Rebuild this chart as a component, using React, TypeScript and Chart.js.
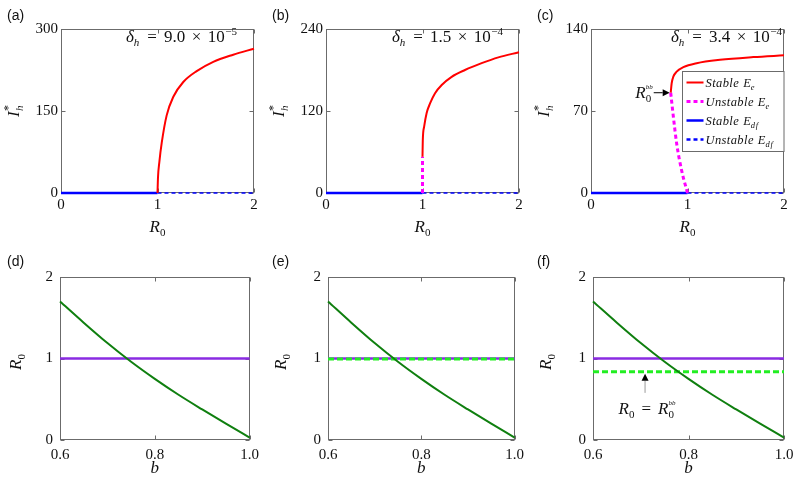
import React, { useEffect, useRef } from "react";
import { Chart, registerables } from "chart.js";

Chart.register(...registerables);

// ---------------- data ----------------
// Top row: bifurcation diagrams, I_h* against R0
const R0_A_STABLE = [1.0, 1.005, 1.02, 1.044, 1.095, 1.164, 1.267, 1.406, 1.578, 1.785, 2.0];
const IH_A_STABLE = [0, 28, 58, 92, 142, 176, 203, 223, 240, 253, 264];

const R0_B_STABLE = [1.0, 1.003, 1.017, 1.043, 1.078, 1.13, 1.199, 1.302, 1.44, 1.613, 1.786, 2.0];
const IH_B_STABLE = [53, 77, 97, 117, 131, 146, 158, 170, 180, 190, 198.5, 206];
const R0_B_UNSTABLE = [1.0, 1.0];
const IH_B_UNSTABLE = [0, 53];

const R0_C_STABLE = [0.826, 0.836, 0.853, 0.888, 0.957, 1.095, 1.337, 1.682, 2.0];
const IH_C_STABLE = [85.6, 93.7, 99.3, 103.6, 107.4, 110.8, 113.7, 116.0, 117.5];
const R0_C_UNSTABLE = [0.826, 0.84, 0.855, 0.888, 0.94, 1.0];
const IH_C_UNSTABLE = [85.6, 75, 64, 42, 19, 0];

const R0_DF_STABLE = [0, 1];
const R0_DF_UNSTABLE = [1, 2];
const IH_DF = [0, 0];

const DELTA_MANTISSA = ["9.0", "1.5", "3.4"];
const DELTA_EXPONENT = ["−5", "−4", "−4"];

const TICKS_R0_X = [0, 1, 2];
const TICKS_IH_A = [0, 150, 300];
const TICKS_IH_B = [0, 120, 240];
const TICKS_IH_C = [0, 70, 140];

// Bottom row: R0 against b
const B_VALUES = [0.6, 0.65, 0.7, 0.75, 0.8, 0.85, 0.9, 0.95, 1.0];
const R0_OF_B = [1.7, 1.44, 1.19, 0.96, 0.75, 0.555, 0.375, 0.2, 0.03];
const B_RANGE = [0.6, 1.0];
const R0_ONE = [1, 1];
const R0_BB_E = [0.995, 0.995];
const R0_BB_F = [0.836, 0.836];
const ANNOT_B_F = 0.709;

const TICKS_B = [0.6, 0.8, 1.0];
const TICKS_R0_Y = [0, 1, 2];

const PANEL_LABELS = ["(a)", "(b)", "(c)", "(d)", "(e)", "(f)"];

// ---------------- styling helpers ----------------
const SERIF = "'Liberation Serif', 'Times New Roman', serif";
const SANS = "'Liberation Sans', Arial, sans-serif";
const BOX = "#6b6b6b";
const INK = "#111";

type Part = { t: string; size: number; italic?: boolean; dy?: number; ls?: number; gap?: number; overlay?: boolean };

function fontOf(p: Part) {
  return `${p.italic ? "italic " : ""}${p.size}px ${SERIF}`;
}

function layoutParts(ctx: any, parts: Part[]) {
  let cursor = 0;
  let lastStart = 0;
  const pos: number[] = [];
  for (const p of parts) {
    ctx.font = fontOf(p);
    ctx.letterSpacing = `${p.ls || 0}px`;
    const w = ctx.measureText(p.t).width;
    let start;
    if (p.overlay) {
      start = lastStart;
      cursor = Math.max(cursor, start + w);
    } else {
      start = cursor + (p.gap || 0);
      cursor = start + w;
      lastStart = start;
    }
    pos.push(start);
  }
  ctx.letterSpacing = "0px";
  return { pos, width: cursor };
}

function drawParts(ctx: any, parts: Part[], x: number, y: number, align = "left", color = INK) {
  ctx.save();
  ctx.textAlign = "left";
  ctx.textBaseline = "alphabetic";
  ctx.fillStyle = color;
  const { pos, width } = layoutParts(ctx, parts);
  const x0 = align === "left" ? x : align === "center" ? x - width / 2 : x - width;
  parts.forEach((p, i) => {
    ctx.font = fontOf(p);
    ctx.letterSpacing = `${p.ls || 0}px`;
    ctx.fillText(p.t, x0 + pos[i], y + (p.dy || 0));
  });
  ctx.letterSpacing = "0px";
  ctx.restore();
}

function arrow(ctx: any, x1: number, y1: number, x2: number, y2: number, lineColor: string, headLen = 7, headW = 3.5) {
  const ang = Math.atan2(y2 - y1, x2 - x1);
  const bx = x2 - headLen * Math.cos(ang);
  const by = y2 - headLen * Math.sin(ang);
  ctx.save();
  ctx.strokeStyle = lineColor;
  ctx.lineWidth = 1;
  ctx.beginPath();
  ctx.moveTo(x1, y1);
  ctx.lineTo(bx, by);
  ctx.stroke();
  ctx.fillStyle = "#000";
  ctx.beginPath();
  ctx.moveTo(x2, y2);
  ctx.lineTo(bx + headW * Math.sin(ang), by - headW * Math.cos(ang));
  ctx.lineTo(bx - headW * Math.sin(ang), by + headW * Math.cos(ang));
  ctx.closePath();
  ctx.fill();
  ctx.restore();
}

function series(xs: number[], ys: number[], color: string, width: number, dash: number[] = [], smooth = false) {
  return {
    data: xs.map((x, i) => ({ x, y: ys[i] })),
    borderColor: color,
    backgroundColor: color,
    borderWidth: width,
    borderDash: dash,
    borderCapStyle: "butt",
    pointRadius: 0,
    pointHoverRadius: 0,
    fill: false,
    clip: false,
    tension: 0,
    cubicInterpolationMode: smooth ? "monotone" : "default",
  };
}

const RED = "#ff0000";
const BLUE = "#0000ff";
const MAGENTA = "#ff00ff";
const DGREEN = "#0f7f0f";
const PURPLE = "#8a2be2";
const LIME = "#22ee22";

// ---------------- panel spec ----------------
interface PanelSpec {
  left: number;
  top: number;
  width: number;
  height: number;
  area: { l: number; t: number; r: number; b: number };
  xMin: number;
  xMax: number;
  yMin: number;
  yMax: number;
  xTicks: number[];
  yTicks: number[];
  fixed1: boolean;
  xPad: number;
  yPad: number;
  datasets: any[];
  decorate: (ctx: any, chart: any) => void;
}

const TOP_Y_TITLE: Part[] = [
  { t: "I", size: 17, italic: true },
  { t: "h", size: 11, italic: true, dy: 4, gap: 0.5 },
  { t: "*", size: 12, dy: -7, overlay: true },
];
const R0_PARTS: Part[] = [
  { t: "R", size: 17, italic: true },
  { t: "0", size: 11, dy: 4 },
];
const B_PARTS: Part[] = [{ t: "b", size: 17, italic: true }];

function topDecor(idx: number, deltaRight: number, extra?: (ctx: any, chart: any) => void) {
  return (ctx: any, chart: any) => {
    const ca = chart.chartArea;
    ctx.save();
    ctx.fillStyle = INK;
    ctx.font = `14px ${SANS}`;
    ctx.textAlign = "left";
    ctx.textBaseline = "alphabetic";
    ctx.fillText(PANEL_LABELS[idx], 7, 20);
    ctx.restore();

    ctx.save();
    ctx.translate(19, 111);
    ctx.rotate(-Math.PI / 2);
    drawParts(ctx, TOP_Y_TITLE, 0, 0, "center");
    ctx.restore();

    drawParts(ctx, R0_PARTS, (ca.left + ca.right) / 2, 232, "center");

    const delta: Part[] = [
      { t: "δ", size: 17, italic: true },
      { t: "h", size: 11, italic: true, dy: 4 },
      { t: "=", size: 17, gap: 8 },
      { t: DELTA_MANTISSA[idx], size: 17, gap: 7 },
      { t: "×", size: 17, gap: 6.5 },
      { t: "10", size: 17, gap: 6.5 },
      { t: DELTA_EXPONENT[idx], size: 11, dy: -7, gap: 0.5 },
    ];
    drawParts(ctx, delta, ca.right - deltaRight, 42, "right");
    if (extra) extra(ctx, chart);
  };
}

function bottomDecor(idx: number, extra?: (ctx: any, chart: any) => void) {
  return (ctx: any, chart: any) => {
    const ca = chart.chartArea;
    ctx.save();
    ctx.fillStyle = INK;
    ctx.font = `14px ${SANS}`;
    ctx.textAlign = "left";
    ctx.textBaseline = "alphabetic";
    ctx.fillText(PANEL_LABELS[idx], 7, 21);
    ctx.restore();

    ctx.save();
    ctx.translate(20.5, 117);
    ctx.rotate(-Math.PI / 2);
    drawParts(ctx, R0_PARTS, 0, 0, "center");
    ctx.restore();

    drawParts(ctx, B_PARTS, (ca.left + ca.right) / 2, 228, "center");
    if (extra) extra(ctx, chart);
  };
}

function legendC(ctx: any, chart: any) {
  const xs = chart.scales.x;
  const ys = chart.scales.y;
  // R0^bb arrow
  const tipX = xs.getPixelForValue(R0_C_STABLE[0]) - 1;
  const tipY = ys.getPixelForValue(IH_C_STABLE[0]);
  const tailX = tipX - 16;
  arrow(ctx, tailX, tipY, tipX, tipY, "#000", 7, 3.5);
  drawParts(
    ctx,
    [
      { t: "R", size: 17, italic: true },
      { t: "0", size: 11, dy: 4 },
      { t: "bb", size: 7, italic: true, dy: -9, overlay: true },
    ],
    tailX - 1,
    tipY + 5,
    "right"
  );

  // legend box
  const ca = chart.chartArea;
  const bx = 152.5;
  const by = 71.5;
  const bw = ca.right - bx;
  const bh = 80;
  ctx.save();
  ctx.fillStyle = "#fff";
  ctx.fillRect(bx, by, bw, bh);
  ctx.strokeStyle = BOX;
  ctx.lineWidth = 1;
  ctx.strokeRect(bx, by, bw, bh);
  ctx.beginPath();
  ctx.rect(bx, by, bw, bh);
  ctx.clip();
  const rows = [
    { c: RED, w: 2, d: [], name: "Stable", sub: "e" },
    { c: MAGENTA, w: 3, d: [4, 3], name: "Unstable", sub: "e" },
    { c: BLUE, w: 2.5, d: [], name: "Stable", sub: "df" },
    { c: BLUE, w: 2.5, d: [4, 3], name: "Unstable", sub: "df" },
  ];
  const cy = [82.5, 101.5, 120.5, 139.5];
  rows.forEach((r, i) => {
    ctx.save();
    ctx.strokeStyle = r.c;
    ctx.lineWidth = r.w;
    ctx.setLineDash(r.d);
    ctx.beginPath();
    ctx.moveTo(156.5, cy[i]);
    ctx.lineTo(173.5, cy[i]);
    ctx.stroke();
    ctx.restore();
    drawParts(
      ctx,
      [
        { t: r.name, size: 12.5, italic: true, ls: 0.4 },
        { t: "E", size: 12.5, italic: true, gap: 4 },
        { t: r.sub, size: 8.5, italic: true, dy: 2.5, ls: 0.8 },
      ],
      175.5,
      cy[i] + 4.5,
      "left"
    );
  });
  ctx.restore();
}

function annotF(ctx: any, chart: any) {
  const xs = chart.scales.x;
  const ys = chart.scales.y;
  const ax = xs.getPixelForValue(ANNOT_B_F);
  const tipY = ys.getPixelForValue(R0_BB_F[0]) + 2;
  arrow(ctx, ax, tipY + 19, ax, tipY, "#999", 7, 3.5);
  drawParts(
    ctx,
    [
      { t: "R", size: 17, italic: true },
      { t: "0", size: 11, dy: 4 },
      { t: "=", size: 17, gap: 7 },
      { t: "R", size: 17, italic: true, gap: 7 },
      { t: "0", size: 11, dy: 4 },
      { t: "bb", size: 7, italic: true, dy: -9, overlay: true },
    ],
    ax + 2,
    tipY + 40,
    "center"
  );
}

const TOP_AREA = { l: 61, t: 29, r: 254, b: 193 };

const PANELS: PanelSpec[] = [
  {
    left: 0, top: 0, width: 265, height: 245, area: TOP_AREA,
    xMin: 0, xMax: 2, yMin: 0, yMax: 300, xTicks: TICKS_R0_X, yTicks: TICKS_IH_A, fixed1: false, xPad: 3, yPad: 3,
    datasets: [
      series(R0_A_STABLE, IH_A_STABLE, RED, 2, [], true),
      series(R0_DF_STABLE, IH_DF, BLUE, 2.5),
      series(R0_DF_UNSTABLE, IH_DF, BLUE, 1.5, [4, 3]),
    ],
    decorate: topDecor(0, 17),
  },
  {
    left: 265, top: 0, width: 265, height: 245, area: TOP_AREA,
    xMin: 0, xMax: 2, yMin: 0, yMax: 240, xTicks: TICKS_R0_X, yTicks: TICKS_IH_B, fixed1: false, xPad: 3, yPad: 3,
    datasets: [
      series(R0_B_STABLE, IH_B_STABLE, RED, 2, [], true),
      series(R0_B_UNSTABLE, IH_B_UNSTABLE, MAGENTA, 3, [4, 3]),
      series(R0_DF_STABLE, IH_DF, BLUE, 2.5),
      series(R0_DF_UNSTABLE, IH_DF, BLUE, 1.5, [4, 3]),
    ],
    decorate: topDecor(1, 16),
  },
  {
    left: 530, top: 0, width: 270, height: 245, area: TOP_AREA,
    xMin: 0, xMax: 2, yMin: 0, yMax: 140, xTicks: TICKS_R0_X, yTicks: TICKS_IH_C, fixed1: false, xPad: 3, yPad: 3,
    datasets: [
      series(R0_C_STABLE, IH_C_STABLE, RED, 2, [], true),
      series(R0_C_UNSTABLE, IH_C_UNSTABLE, MAGENTA, 3, [4, 3], true),
      series(R0_DF_STABLE, IH_DF, BLUE, 2.5),
      series(R0_DF_UNSTABLE, IH_DF, BLUE, 1.5, [4, 3]),
    ],
    decorate: topDecor(2, 2, legendC),
  },
  {
    left: 0, top: 245, width: 265, height: 246, area: { l: 60, t: 32, r: 251, b: 195 },
    xMin: 0.6, xMax: 1.0, yMin: 0, yMax: 2, xTicks: TICKS_B, yTicks: TICKS_R0_Y, fixed1: true, xPad: 6, yPad: 7,
    datasets: [
      series(B_VALUES, R0_OF_B, DGREEN, 2, [], true),
      series(B_RANGE, R0_ONE, PURPLE, 2.5),
    ],
    decorate: bottomDecor(3),
  },
  {
    left: 265, top: 245, width: 265, height: 246, area: { l: 63, t: 32, r: 254, b: 195 },
    xMin: 0.6, xMax: 1.0, yMin: 0, yMax: 2, xTicks: TICKS_B, yTicks: TICKS_R0_Y, fixed1: true, xPad: 6, yPad: 7,
    datasets: [
      series(B_VALUES, R0_OF_B, DGREEN, 2, [], true),
      series(B_RANGE, R0_BB_E, LIME, 3, [6, 3]),
      series(B_RANGE, R0_ONE, PURPLE, 2.5),
    ],
    decorate: bottomDecor(4),
  },
  {
    left: 530, top: 245, width: 270, height: 246, area: { l: 63, t: 32, r: 254, b: 195 },
    xMin: 0.6, xMax: 1.0, yMin: 0, yMax: 2, xTicks: TICKS_B, yTicks: TICKS_R0_Y, fixed1: true, xPad: 6, yPad: 7,
    datasets: [
      series(B_VALUES, R0_OF_B, DGREEN, 2, [], true),
      series(B_RANGE, R0_ONE, PURPLE, 2.5),
      series(B_RANGE, R0_BB_F, LIME, 3, [6, 3]),
    ],
    decorate: bottomDecor(5, annotF),
  },
];

function Panel({ spec }: { spec: PanelSpec }) {
  const ref = useRef<HTMLCanvasElement>(null);
  useEffect(() => {
    const canvas = ref.current;
    if (!canvas) return;
    const s = spec;
    const boxPlugin = {
      id: "matlabBox",
      beforeDatasetsDraw(chart: any) {
        const ctx = chart.ctx;
        const ca = chart.chartArea;
        const xs = chart.scales.x;
        const ys = chart.scales.y;
        const L = Math.round(ca.left) + 0.5;
        const R = Math.round(ca.right) - 0.5;
        const T = Math.round(ca.top) + 0.5;
        const B = Math.round(ca.bottom) - 0.5;
        ctx.save();
        ctx.strokeStyle = BOX;
        ctx.lineWidth = 1;
        ctx.strokeRect(L, T, R - L, B - T);
        ctx.beginPath();
        s.xTicks.forEach((v) => {
          const px = Math.round(xs.getPixelForValue(v)) + 0.5;
          ctx.moveTo(px, B);
          ctx.lineTo(px, B - 4);
          ctx.moveTo(px, T);
          ctx.lineTo(px, T + 4);
        });
        s.yTicks.forEach((v) => {
          const py = Math.round(ys.getPixelForValue(v)) + 0.5;
          ctx.moveTo(L, py);
          ctx.lineTo(L + 4, py);
          ctx.moveTo(R, py);
          ctx.lineTo(R - 4, py);
        });
        ctx.stroke();
        ctx.restore();
      },
      afterDatasetsDraw(chart: any) {
        s.decorate(chart.ctx, chart);
      },
    };
    const tickFont = { family: SERIF, size: 15 };
    const chart = new Chart(canvas, {
      type: "line",
      data: { datasets: s.datasets },
      options: {
        animation: false,
        responsive: false,
        maintainAspectRatio: false,
        devicePixelRatio: 1,
        events: [],
        layout: {
          padding: { left: 0, top: s.area.t, right: s.width - s.area.r, bottom: 0 },
        },
        plugins: { legend: { display: false }, tooltip: { enabled: false }, title: { display: false } },
        scales: {
          x: {
            type: "linear",
            min: s.xMin,
            max: s.xMax,
            grid: { display: false, drawTicks: false },
            border: { display: false },
            afterBuildTicks: (scale: any) => {
              scale.ticks = s.xTicks.map((v) => ({ value: v }));
            },
            afterFit: (scale: any) => {
              scale.height = s.height - s.area.b;
            },
            ticks: {
              font: tickFont,
              color: INK,
              padding: s.xPad,
              maxRotation: 0,
              autoSkip: false,
              callback: (v: any) => (s.fixed1 ? Number(v).toFixed(1) : String(v)),
            },
          },
          y: {
            type: "linear",
            min: s.yMin,
            max: s.yMax,
            grid: { display: false, drawTicks: false },
            border: { display: false },
            afterBuildTicks: (scale: any) => {
              scale.ticks = s.yTicks.map((v) => ({ value: v }));
            },
            afterFit: (scale: any) => {
              scale.width = s.area.l;
            },
            ticks: {
              font: tickFont,
              color: INK,
              padding: s.yPad,
              autoSkip: false,
              callback: (v: any) => String(v),
            },
          },
        },
      } as any,
      plugins: [boxPlugin],
    } as any);
    return () => chart.destroy();
  }, [spec]);
  return (
    <canvas
      ref={ref}
      width={spec.width}
      height={spec.height}
      style={{ position: "absolute", left: spec.left, top: spec.top, width: spec.width, height: spec.height, display: "block" }}
    />
  );
}

export default function App() {
  return (
    <div style={{ position: "absolute", left: 0, top: 0, width: 800, height: 491, background: "#fff", overflow: "hidden" }}>
      {PANELS.map((p, i) => (
        <Panel key={i} spec={p} />
      ))}
    </div>
  );
}
